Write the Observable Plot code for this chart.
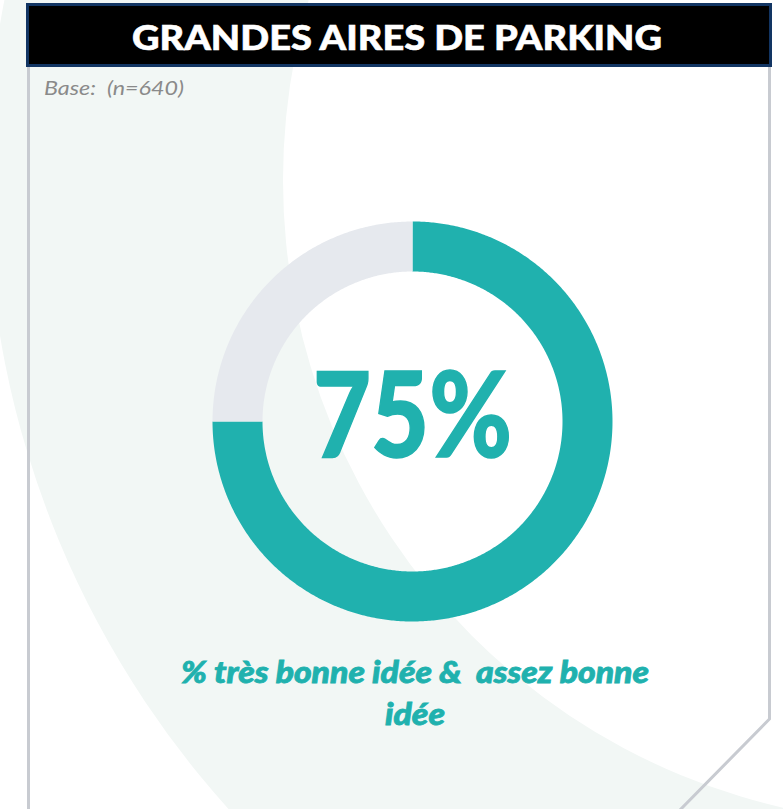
<!DOCTYPE html>
<html>
<head>
<meta charset="utf-8">
<script src="https://cdn.jsdelivr.net/npm/d3@7"></script>
<script src="https://cdn.jsdelivr.net/npm/@observablehq/plot@0.6"></script>
<style>
  html, body { margin: 0; padding: 0; background: #ffffff; }
  #page { position: relative; width: 783px; height: 809px; overflow: hidden; }
  #bg, #fg { position: absolute; left: 0; top: 0; }
  #chart { position: absolute; left: 212px; top: 221px; width: 400px; height: 400px; }
</style>
</head>
<body>
<div id="page">
  <svg id="bg" width="783" height="809"></svg>
  <div id="chart"></div>
  <svg id="fg" width="783" height="809"></svg>
</div>
<script>
// ---- data ----
const title = "GRANDES AIRES DE PARKING";
const baseLabel = "Base:  (n=640)";
const categories = ["Très bonne idée & assez bonne idée", "Autres réponses"];
const shares = [75, 25];
const colors = ["#20b1ae", "#e6e9ee"];
const captionLines = ["% très bonne idée &  assez bonne", "idée"];

// ---- background decoration ----
const bg = d3.select("#bg");
const cx = 927, cy = 180, rIn = 644, rOut = 940;
bg.append("path")
  .attr("d", `M${cx - rOut},${cy}a${rOut},${rOut} 0 1,0 ${2 * rOut},0a${rOut},${rOut} 0 1,0 ${-2 * rOut},0Z` +
             `M${cx - rIn},${cy}a${rIn},${rIn} 0 1,0 ${2 * rIn},0a${rIn},${rIn} 0 1,0 ${-2 * rIn},0Z`)
  .attr("fill", "#f2f7f5")
  .attr("fill-rule", "evenodd");
// panel borders
bg.append("line").attr("x1", 28.5).attr("x2", 28.5).attr("y1", 64).attr("y2", 812)
  .attr("stroke", "#c8cbd1").attr("stroke-width", 3);
bg.append("polyline").attr("points", "769.5,64 769.5,719 678,812")
  .attr("fill", "none").attr("stroke", "#c8cbd1").attr("stroke-width", 3);
// header
bg.append("rect").attr("x", 27.5).attr("y", 4.5).attr("width", 743).attr("height", 61)
  .attr("fill", "#000000").attr("stroke", "#123563").attr("stroke-width", 3);
bg.append("text").attr("x", 397).attr("y", 50).attr("text-anchor", "middle")
  .attr("font-family", "Lato, 'DejaVu Sans', sans-serif").attr("font-weight", 900)
  .attr("font-size", 35).attr("fill", "#ffffff")
  .attr("stroke", "#ffffff").attr("stroke-width", 0.6)
  .attr("textLength", 530).attr("lengthAdjust", "spacingAndGlyphs")
  .text(title);
bg.append("text").attr("x", 44).attr("y", 95)
  .attr("font-family", "Lato, 'DejaVu Sans', sans-serif").attr("font-style", "italic")
  .attr("font-weight", 400)
  .attr("font-size", 19).attr("fill", "#8a8a8a")
  .attr("xml:space", "preserve")
  .attr("textLength", 140).attr("lengthAdjust", "spacingAndGlyphs")
  .text(baseLabel);

// ---- donut (Plot) ----
const total = d3.sum(shares);
const ends = d3.cumsum(shares);
const midR = 0.875;
const arcs = [];
shares.forEach((v, i) => {
  const a0 = (ends[i] - v) / total * 2 * Math.PI;
  const a1 = ends[i] / total * 2 * Math.PI;
  const n = Math.max(2, Math.ceil((a1 - a0) / (Math.PI / 360)));
  for (let k = 0; k <= n; k++) {
    const a = a0 + (a1 - a0) * k / n;
    arcs.push({category: categories[i], x: midR * Math.sin(a), y: midR * Math.cos(a)});
  }
});

const chart = Plot.plot({
  width: 400,
  height: 400,
  margin: 0,
  style: {background: "transparent", overflow: "visible"},
  x: {domain: [-1, 1], axis: null},
  y: {domain: [-1, 1], axis: null},
  color: {domain: categories, range: colors},
  marks: [
    Plot.line(arcs, {x: "x", y: "y", z: "category", stroke: "category",
      strokeWidth: 50, strokeLinecap: "butt", strokeLinejoin: "round"}),
    Plot.text([`${shares[0]}%`], {x: 0, y: 0, text: d => d, fill: colors[0],
      stroke: colors[0], strokeWidth: 1.5, strokeLinejoin: "miter",
      fontSize: 118, fontWeight: 900, fontFamily: "Lato, 'DejaVu Sans', sans-serif",
      dy: -2})
  ]
});
document.getElementById("chart").appendChild(chart);
d3.select(chart).selectAll("text").filter(function() { return this.textContent === `${shares[0]}%`; })
  .attr("textLength", 199).attr("lengthAdjust", "spacingAndGlyphs");

// ---- caption ----
const fg = d3.select("#fg");
const capWidths = [468, 60];
captionLines.forEach((t, i) => {
  fg.append("text").attr("x", 415).attr("y", 683 + i * 42).attr("text-anchor", "middle")
    .attr("font-family", "Lato, 'DejaVu Sans', sans-serif").attr("font-weight", 900)
    .attr("font-style", "italic").attr("font-size", 30).attr("fill", colors[0])
    .attr("stroke", colors[0]).attr("stroke-width", 0.8)
    .attr("xml:space", "preserve")
    .attr("textLength", capWidths[i]).attr("lengthAdjust", "spacingAndGlyphs")
    .text(t);
});
</script>
</body>
</html>
